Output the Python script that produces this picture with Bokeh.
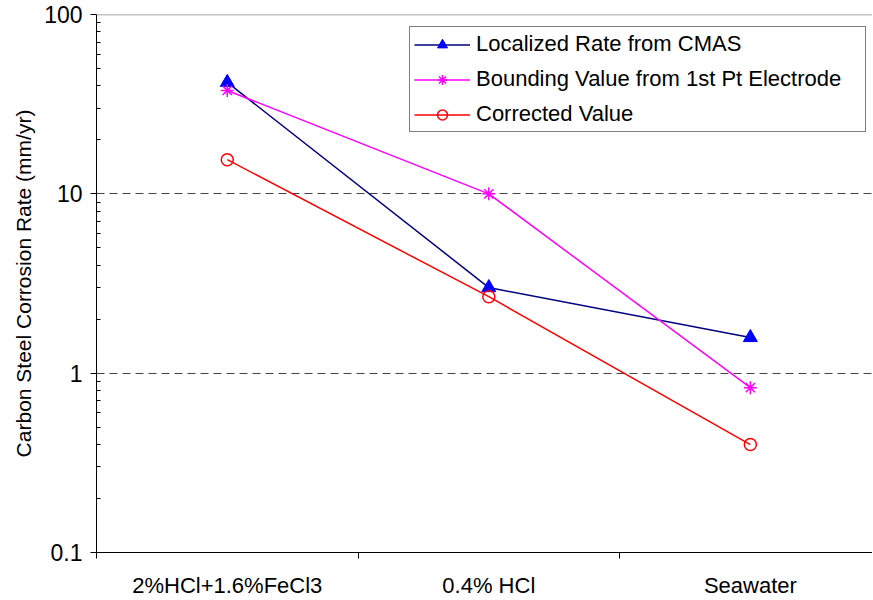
from bokeh.plotting import figure
from bokeh.models import Range1d, FixedTicker, Span, Legend, LegendItem
from bokeh.embed import file_html
from bokeh.resources import INLINE

categories = ["2%HCl+1.6%FeCl3", "0.4% HCl", "Seawater"]
cmas_rate = [41.8, 3.0, 1.58]
bounding_value = [37.7, 10.0, 0.83]
corrected_value = [15.5, 2.67, 0.40]

y_major = [0.1, 1, 10, 100]
y_minor = [m * d for d in (0.1, 1, 10) for m in range(2, 10)]

FONT = "Liberation Sans"

x = [i + 0.5 for i in range(len(categories))]

p = figure(
    width=872, height=598,
    frame_width=776, frame_height=538,
    y_axis_type="log",
    x_range=Range1d(0, 2.967), y_range=Range1d(0.1, 100),
    output_backend="svg", toolbar_location=None,
    min_border_left=96, min_border_top=14, min_border_right=0, min_border_bottom=46,
)
p.outline_line_color = None
p.background_fill_color = "white"
p.border_fill_color = "white"

# axes
xa = p.xaxis[0]
xa.ticker = FixedTicker(ticks=x, minor_ticks=list(range(len(categories) + 1)))
xa.major_label_overrides = {xi: c for xi, c in zip(x, categories)}
xa.major_tick_out = 0
xa.major_tick_in = 0
xa.minor_tick_out = 6
xa.minor_tick_in = 0
xa.axis_line_color = "black"
xa.minor_tick_line_color = "black"
xa.major_label_text_font = FONT
xa.major_label_text_font_size = "22px"
xa.major_label_text_color = "black"
xa.major_label_standoff = 14

ya = p.yaxis[0]
ya.ticker = FixedTicker(ticks=y_major, minor_ticks=y_minor)
ya.major_label_overrides = {0.1: "0.1", 1: "1", 10: "10", 100: "100"}
ya.major_tick_out = 6
ya.major_tick_in = 0
ya.minor_tick_out = 0
ya.minor_tick_in = 4
ya.axis_line_color = "black"
ya.major_tick_line_color = "black"
ya.minor_tick_line_color = "black"
ya.major_label_text_font = FONT
ya.major_label_text_font_size = "23px"
ya.major_label_text_color = "black"
ya.major_label_standoff = 8
ya.axis_label = "Carbon Steel Corrosion Rate (mm/yr)"
ya.axis_label_text_font = FONT
ya.axis_label_text_font_style = "normal"
ya.axis_label_text_font_size = "21px"
ya.axis_label_text_color = "black"
ya.axis_label_standoff = 6

p.xgrid.visible = False
p.ygrid.ticker = FixedTicker(ticks=[1, 10])
p.ygrid.grid_line_color = "#444444"
p.ygrid.grid_line_dash = "8 5"
p.ygrid.grid_line_width = 1

p.add_layout(Span(location=100, dimension="width", line_color="#888888", line_width=1.5))

# series
l1 = p.line(x, cmas_rate, line_color="#000080", line_width=1.5)
m1 = p.scatter(x, cmas_rate, marker="triangle", size=14, fill_color="#0000FF", line_color="#0000FF")
l2 = p.line(x, bounding_value, line_color="#FF00FF", line_width=1.5)
m2 = p.scatter(x, bounding_value, marker="asterisk", size=13, line_color="#FF00FF", line_width=1.5)
l3 = p.line(x, corrected_value, line_color="#FF0000", line_width=1.5)
m3 = p.scatter(x, corrected_value, marker="circle", size=12, fill_color=None, line_color="#FF0000", line_width=1.5)

legend = Legend(
    items=[
        LegendItem(label="Localized Rate from CMAS", renderers=[l1, m1]),
        LegendItem(label="Bounding Value from 1st Pt Electrode", renderers=[l2, m2]),
        LegendItem(label="Corrected Value", renderers=[l3, m3]),
    ],
    location=(313, 420),
    border_line_color="black",
    border_line_width=1.5,
    background_fill_color="white",
    background_fill_alpha=1,
    label_text_font=FONT,
    label_text_font_size="22px",
    label_text_color="black",
    glyph_width=56,
    glyph_height=25,
    label_height=25,
    label_width=385,
    label_standoff=6,
    spacing=9,
    padding=4,
    margin=0,
)
p.add_layout(legend, "center")

open("out.html", "w").write(file_html(p, INLINE))
